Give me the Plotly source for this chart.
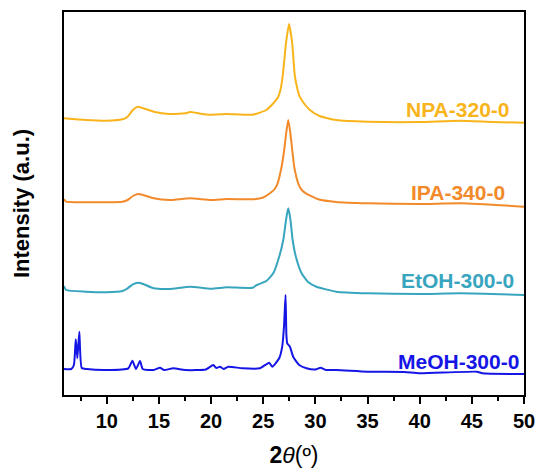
import plotly.graph_objects as go

# 2theta positions and intensities (a.u., offset-stacked as in the figure)
npa_x = [5.9, 8, 10, 11.5, 12, 12.5, 13, 13.5, 14.5, 16, 17.5, 18, 19, 20, 21.5, 24, 25.3, 25.9, 26.44, 26.65,
         26.86, 27.02, 27.18, 27.47, 27.78, 27.9, 28.04, 28.3, 28.5, 28.95, 29.47, 30.4, 32, 35, 40, 43.8, 47, 50]
npa_y = [276.7, 275, 274.3, 275.7, 278.3, 285, 288.3, 286.7, 283.3, 281, 281.7, 283, 281.3, 280.3, 281, 280.3, 285,
         291, 298.3, 305, 318.3, 335, 351.7, 371, 351.7, 335, 318.3, 305, 298.3, 291, 285, 279, 275, 273.3, 273,
         274.3, 273, 272.3]

ipa_x = [5.9, 6.1, 8, 10, 11.5, 12, 12.5, 13, 13.5, 14.5, 16, 18, 20, 21.5, 24.04, 25.0, 25.64, 26.1, 26.38, 26.76,
         27.01, 27.2, 27.4, 27.6, 27.78, 27.97, 28.35, 28.7, 29.09, 30.27, 32, 35, 40, 44, 50]
ipa_y = [196, 193.3, 192.7, 192.7, 193.3, 195, 199, 201, 200, 196.7, 195, 196.7, 195, 196, 195.7, 197.5, 201.7, 206,
         211.7, 228.3, 245, 262, 275, 262, 245, 228.3, 211.7, 205, 201.7, 195.7, 193, 191.7, 191, 191.7, 188.3]

etoh_x = [5.9, 6.1, 8, 10, 11.5, 12, 12.5, 13, 13.5, 14.5, 16, 18, 20, 21.5, 24, 24.37, 25.3, 25.96, 26.53, 26.92,
          27.14, 27.28, 27.4, 27.52, 27.65, 27.82, 28.13, 28.68, 29.3, 30.1, 32, 35, 40, 44, 50]
etoh_y = [109, 105, 103.3, 102.7, 104, 106.7, 110.7, 112.3, 111, 106.7, 106, 108.3, 106.3, 107.7, 107.3, 110, 114,
          121.7, 138.3, 155, 171.7, 181, 186.7, 181, 171.7, 155, 138.3, 121.7, 113, 108.3, 103.3, 101.7, 101, 101.7, 100]

meoh_x = [5.9, 6.6, 6.85, 7.03, 7.18, 7.37, 7.6, 8.08, 10, 12.07, 12.46, 12.8, 13.19, 13.45, 14.5, 15.1, 15.5, 16.38,
          17.5, 19.5, 20.21, 20.5, 20.85, 21.2, 21.65, 23, 24.68, 25.57, 25.86, 26.53, 26.82, 27.0, 27.14, 27.22, 27.3,
          27.56, 27.87, 28.45, 29.15, 30.0, 30.5, 31, 32, 35, 38.5, 40, 45.5, 46, 50]
meoh_y = [26, 26, 30, 55.7, 36.7, 63.3, 27, 26, 25, 26.7, 34.3, 26, 34, 26, 25, 27.3, 25, 26.7, 25, 25.5, 30, 27, 28.3,
          26, 28.3, 26.7, 26.7, 32.3, 28.3, 36.7, 48.3, 70, 100, 60, 51.7, 48.3, 38.3, 30, 26.7, 25.5, 27.3, 25, 25,
          23.3, 23, 21.7, 23.3, 21.7, 21]

names = ["NPA-320-0", "IPA-340-0", "EtOH-300-0", "MeOH-300-0"]
colors = ["#F9B41C", "#F28A2B", "#38A5BF", "#1515E6"]
xs = [npa_x, ipa_x, etoh_x, meoh_x]
ys = [npa_y, ipa_y, etoh_y, meoh_y]
label_x = [48.79, 48.41, 49.2, 49.69]
label_y = [285.7, 202.3, 115, 33.3]

x_ticks = [10, 15, 20, 25, 30, 35, 40, 45, 50]

fig = go.Figure()
for x, y, n, c in zip(xs, ys, names, colors):
    fig.add_trace(go.Scatter(x=x, y=y, mode="lines", name=n,
                             line=dict(color=c, width=2, shape="spline", smoothing=0.5)))

for n, c, lx, ly in zip(names, colors, label_x, label_y):
    fig.add_annotation(x=lx, y=ly, text="<b>%s</b>" % n, showarrow=False, xanchor="right", yanchor="middle",
                       font=dict(family="Liberation Sans, Arial", size=21, color=c))

fig.update_layout(
    width=541, height=473,
    margin=dict(l=64, r=17, t=12, b=78),
    paper_bgcolor="white", plot_bgcolor="white",
    showlegend=False,
    font=dict(family="Liberation Sans, Arial", color="black"),
)
fig.update_xaxes(
    range=[5.9, 50], tickvals=x_ticks, ticktext=["<b>%d</b>" % v for v in x_ticks],
    tickfont=dict(size=20), ticks="outside", ticklen=7, tickwidth=1.5, tickcolor="black",
    minor=dict(dtick=2.5, tick0=0, ticks="outside", ticklen=4, tickwidth=1.5, tickcolor="black"),
    showline=True, linecolor="black", linewidth=2, mirror=True, showgrid=False, zeroline=False,
    automargin=False,
    title=dict(text="<b>2</b><i>θ</i>(º)", font=dict(size=23), standoff=16),
)
fig.update_yaxes(
    range=[0, 383], showticklabels=False, ticks="",
    showline=True, linecolor="black", linewidth=2, mirror=True, showgrid=False, zeroline=False,
    automargin=False,
    title=dict(text="<b>Intensity (a.u.)</b>", font=dict(size=22), standoff=26),
)

fig.write_html("out.html")
